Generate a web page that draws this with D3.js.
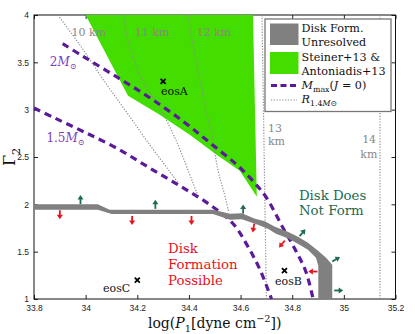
<!DOCTYPE html>
<html>
<head>
<meta charset="utf-8">
<script src="https://cdn.jsdelivr.net/npm/d3@7"></script>
<style>
  body { margin: 0; background: #fff; }
  text { font-family: "DejaVu Serif", serif; }
  .tick text { font-family: "Liberation Sans", Arial, sans-serif; }
</style>
</head>
<body>
<div id="chart"></div>
<script>
// ---- data ----
const xTicks = [33.8, 34, 34.2, 34.4, 34.6, 34.8, 35, 35.2];
const yTicks = [1, 1.5, 2, 2.5, 3, 3.5, 4];

// Steiner+13 & Antoniadis+13 allowed region (logP1, Gamma2)
const greenRegion = [[34.0, 4.0], [34.164, 3.148], [34.287, 2.947], [34.403, 2.736],
  [34.507, 2.524], [34.597, 2.355], [34.663, 2.081], [34.648, 4.0]];

// disk-formation unresolved band: upper and lower edges
const bandUpper = [[33.80, 2.00], [34.047, 2.00], [34.093, 1.943], [34.493, 1.943], [34.559, 1.90],
  [34.605, 1.906], [34.656, 1.848], [34.694, 1.82], [34.733, 1.764], [34.783, 1.711],
  [34.822, 1.658], [34.861, 1.595], [34.90, 1.51], [34.931, 1.436], [34.955, 1.362], [34.955, 1.0]];
const bandLower = [[33.80, 1.943], [34.047, 1.943], [34.101, 1.898], [34.493, 1.898], [34.559, 1.838],
  [34.605, 1.843], [34.667, 1.785], [34.706, 1.743], [34.737, 1.69], [34.783, 1.642],
  [34.822, 1.584], [34.861, 1.521], [34.892, 1.436], [34.901, 1.352], [34.901, 1.0]];

// maximum mass contours (J = 0)
const mass2 = [[33.911, 3.697], [33.99, 3.563], [34.119, 3.348], [34.248, 3.126], [34.378, 2.876],
  [34.481, 2.651], [34.585, 2.419], [34.655, 2.225], [34.701, 2.067], [34.764, 1.753],
  [34.814, 1.51], [34.853, 1.288], [34.881, 1.0]];
const mass15 = [[33.80, 3.018], [33.88, 2.912], [33.99, 2.77], [34.119, 2.595], [34.248, 2.384],
  [34.378, 2.173], [34.481, 1.996], [34.571, 1.795], [34.628, 1.556], [34.675, 1.31], [34.72, 1.0]];

// radius contours R_1.4
const radius10 = [[33.892, 4.0], [33.977, 3.686], [34.074, 3.295], [34.171, 2.926], [34.248, 2.63],
  [34.326, 2.345], [34.36, 2.22]];
const radius11 = [[34.145, 4.0], [34.171, 3.655], [34.222, 3.299], [34.287, 3.021], [34.349, 2.683],
  [34.415, 2.229], [34.438, 2.07]];
const radius12 = [[34.396, 4.0], [34.419, 3.633], [34.446, 3.264], [34.465, 3.0], [34.489, 2.736],
  [34.512, 2.366], [34.535, 2.133], [34.555, 1.912]];
const radius13 = [[34.683, 4.0], [34.70, 1.0]];
const radius14 = [[35.14, 4.0], [35.14, 1.0]];

// arrows: position, screen direction in degrees, formation outcome
const arrowX = [33.90, 33.98, 34.18, 34.27, 34.41, 34.61, 34.65, 34.84, 34.76, 34.97, 34.88, 34.98];
const arrowY = [1.89, 2.05, 1.83, 2.0, 1.83, 1.95, 1.75, 1.70, 1.58, 1.42, 1.29, 1.09];
const arrowDir = [90, -90, 90, -90, 90, -90, 100, -50, 130, -30, 180, 0];
const arrowForms = [true, false, true, false, true, false, true, false, true, false, true, false];

const eosNames = ["eosA", "eosB", "eosC"];
const eosX = [34.30, 34.77, 34.20];
const eosY = [3.30, 1.30, 1.20];

// ---- layout ----
const W = 415, H = 334;
const margin = { top: 15, right: 19.5, bottom: 35, left: 34 };
const innerW = W - margin.left - margin.right;
const innerH = H - margin.top - margin.bottom;

const purple = "#5a1a9a", purpleText = "#7b3fbd", green = "#44dd00",
      band = "#808080", greenArrow = "#1c6b52", red = "#e8121c", dotGrey = "#8c8c8c";

const svg = d3.select("#chart").append("svg")
  .attr("width", W).attr("height", H);
const g = svg.append("g").attr("transform", `translate(${margin.left},${margin.top})`);

const x = d3.scaleLinear().domain([33.8, 35.2]).range([0, innerW]);
const y = d3.scaleLinear().domain([1, 4]).range([innerH, 0]);

// axes with inward ticks on all sides
const styleAxis = a => a
  .call(s => s.select(".domain").remove())
  .call(s => s.selectAll("line").attr("stroke", "#222"))
  .call(s => s.selectAll("text").attr("fill", "#222").style("font-size", "8.5px"));

g.append("g").attr("transform", `translate(0,${innerH})`)
  .call(d3.axisBottom(x).tickValues(xTicks).tickSize(-4).tickPadding(6).tickFormat(d3.format("")))
  .call(styleAxis);
g.append("g")
  .call(d3.axisLeft(y).tickValues(yTicks).tickSize(-4).tickPadding(5).tickFormat(d3.format("")))
  .call(styleAxis);
g.append("g")
  .call(d3.axisTop(x).tickValues(xTicks).tickSize(-4).tickFormat(""))
  .call(styleAxis);
g.append("g").attr("transform", `translate(${innerW},0)`)
  .call(d3.axisRight(y).tickValues(yTicks).tickSize(-4).tickFormat(""))
  .call(styleAxis);

g.append("rect")
  .attr("width", innerW).attr("height", innerH)
  .attr("fill", "none").attr("stroke", "#111").attr("stroke-width", 1);

const lineLin = d3.line().x(d => x(d[0])).y(d => y(d[1]));
const lineSmooth = d3.line().x(d => x(d[0])).y(d => y(d[1])).curve(d3.curveCatmullRom.alpha(0.5));

// green allowed region
g.append("path")
  .attr("d", lineLin(greenRegion) + "Z")
  .attr("fill", green);

// radius contours
[radius10, radius11, radius12, radius13, radius14].forEach(r => {
  g.append("path")
    .attr("d", lineSmooth(r))
    .attr("fill", "none")
    .attr("stroke", dotGrey)
    .attr("stroke-width", 1.2)
    .attr("stroke-dasharray", "1.2,1.6");
});

// max-mass contours
[mass2, mass15].forEach(m => {
  g.append("path")
    .attr("d", lineSmooth(m))
    .attr("fill", "none")
    .attr("stroke", purple)
    .attr("stroke-width", 3.2)
    .attr("stroke-dasharray", "7,5");
});

// unresolved band
g.append("path")
  .attr("d", lineLin(bandUpper.concat(bandLower.slice().reverse())) + "Z")
  .attr("fill", band);

// arrows
arrowX.forEach((ax, i) => {
  const c = arrowForms[i] ? red : greenArrow;
  const a = g.append("g")
    .attr("transform", `translate(${x(ax)},${y(arrowY[i])}) rotate(${arrowDir[i]})`);
  a.append("line")
    .attr("x1", -4.5).attr("x2", 0.5)
    .attr("stroke", c).attr("stroke-width", 1.8);
  a.append("path")
    .attr("d", "M0,-3L4.5,0L0,3Z")
    .attr("fill", c);
});

// eos markers
eosNames.forEach((n, i) => {
  const px = x(eosX[i]), py = y(eosY[i]);
  g.append("path")
    .attr("d", `M${px - 2.5},${py - 2.5}L${px + 2.5},${py + 2.5}M${px - 2.5},${py + 2.5}L${px + 2.5},${py - 2.5}`)
    .attr("stroke", "#000").attr("stroke-width", 1.8);
  const t = g.append("text").attr("font-size", "11px").attr("fill", "#111").text(n);
  if (n === "eosA") t.attr("x", px - 2).attr("y", py + 14);
  if (n === "eosB") t.attr("x", px + 4).attr("y", py + 14).attr("text-anchor", "middle");
  if (n === "eosC") t.attr("x", px - 7).attr("y", py + 12).attr("text-anchor", "end");
});

// rich text helper: parts = [text, kind] with kind in "", "i", "sub", "sup"
function rich(sel, parts, size) {
  let shift = 0;
  parts.forEach(([s, kind]) => {
    const ts = sel.append("tspan").text(s);
    let target = 0;
    if (kind === "sub") target = size * 0.3;
    if (kind === "sup") target = -size * 0.4;
    ts.attr("dy", target - shift);
    shift = target;
    if (kind === "sub" || kind === "sup") ts.attr("font-size", (size * 0.7) + "px");
    if (kind === "i") ts.attr("font-style", "italic");
  });
}

// radius labels
const kmLabels = [["10 km", 33.945, 3.78], ["11 km", 34.19, 3.78], ["12 km", 34.429, 3.78]];
kmLabels.forEach(([s, lx, ly]) => {
  g.append("text").attr("x", x(lx)).attr("y", y(ly))
    .attr("font-size", "11px").attr("fill", "#888").text(s);
});
g.append("text").attr("x", x(34.706)).attr("y", y(2.767)).attr("font-size", "11px").attr("fill", "#888").text("13");
g.append("text").attr("x", x(34.706)).attr("y", y(2.63)).attr("font-size", "11px").attr("fill", "#888").text("km");
g.append("text").attr("x", x(35.125)).attr("y", y(2.65)).attr("text-anchor", "end").attr("font-size", "11px").attr("fill", "#888").text("14");
g.append("text").attr("x", x(35.13)).attr("y", y(2.49)).attr("text-anchor", "end").attr("font-size", "11px").attr("fill", "#888").text("km");

// mass labels
const m2 = g.append("text").attr("x", x(33.861)).attr("y", y(3.464)).attr("font-size", "12px").attr("fill", purpleText);
rich(m2, [["2", ""], ["M", "i"], ["⊙", "sub"]], 12);
const m15 = g.append("text").attr("x", x(33.848)).attr("y", y(2.662)).attr("font-size", "12px").attr("fill", purpleText);
rich(m15, [["1.5", ""], ["M", "i"], ["⊙", "sub"]], 12);

// region annotations
["Disk Does", "Not Form"].forEach((s, i) => {
  g.append("text").attr("x", x(34.826)).attr("y", y(2.049) + i * 15.5)
    .attr("font-size", "13.3px").attr("fill", greenArrow).text(s);
});
["Disk", "Formation", "Possible"].forEach((s, i) => {
  g.append("text").attr("x", x(34.319)).attr("y", y(1.49) + i * 16)
    .attr("font-size", "13.3px").attr("fill", red).text(s);
});

// axis titles
const xt = svg.append("text")
  .attr("x", margin.left + innerW / 2).attr("y", 328)
  .attr("text-anchor", "middle").attr("font-size", "14px").attr("fill", "#111");
rich(xt, [["log(", ""], ["P", "i"], ["1", "sub"], ["[dyne cm", ""], ["−2", "sup"], ["])", ""]], 14);

const yt = svg.append("text")
  .attr("transform", `translate(15,${margin.top + innerH / 2}) rotate(-90)`)
  .attr("text-anchor", "middle").attr("font-size", "16px").attr("fill", "#111");
rich(yt, [["Γ", ""], ["2", "sub"]], 16);

// legend
const lg = svg.append("g");
lg.append("rect").attr("x", 265).attr("y", 19).attr("width", 126).attr("height", 92.5)
  .attr("fill", "#fff").attr("stroke", "#777").attr("stroke-width", 1.3);
lg.append("rect").attr("x", 270).attr("y", 23.5).attr("width", 28.5).attr("height", 21.5).attr("fill", band);
lg.append("rect").attr("x", 270).attr("y", 52).attr("width", 28.5).attr("height", 22).attr("fill", green);
lg.append("line").attr("x1", 271).attr("x2", 298.5).attr("y1", 85.5).attr("y2", 85.5)
  .attr("stroke", purple).attr("stroke-width", 3).attr("stroke-dasharray", "6,3.5");
lg.append("line").attr("x1", 271).attr("x2", 297).attr("y1", 100).attr("y2", 100)
  .attr("stroke", dotGrey).attr("stroke-width", 1.2).attr("stroke-dasharray", "1.2,1.6");

const legendLines = ["Disk Form.", "Unresolved", "Steiner+13 &", "Antoniadis+13"];
legendLines.forEach((s, i) => {
  lg.append("text").attr("x", 301.5).attr("y", 32 + i * 14.3)
    .attr("font-size", "11.2px").attr("fill", "#111").text(s);
});
const lm = lg.append("text").attr("x", 301.5).attr("y", 89).attr("font-size", "11.2px").attr("fill", "#111");
rich(lm, [["M", "i"], ["max", "sub"], ["(", ""], ["J", "i"], [" = 0)", ""]], 11.2);
const lr = lg.append("text").attr("x", 301.5).attr("y", 103).attr("font-size", "11.2px").attr("fill", "#111");
rich(lr, [["R", "i"], ["1.4", "sub"], ["M", "sub"], ["⊙", "sub"]], 11.2);
lr.selectAll("tspan").filter((d, i) => i === 2).attr("font-style", "italic");
</script>
</body>
</html>
